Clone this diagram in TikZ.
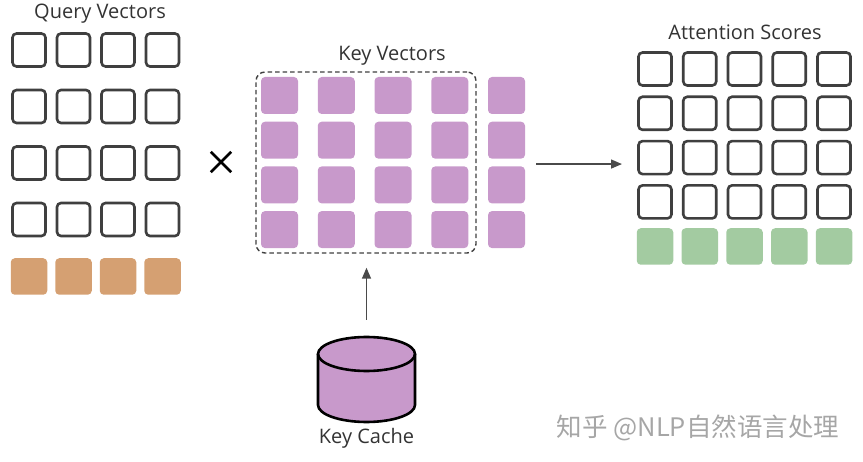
\documentclass[tikz,border=0pt]{standalone}
\usepackage{fontspec}
\setmainfont{Open Sans}
\newfontfamily\cjk{Noto Sans CJK SC}
\usetikzlibrary{arrows.meta,fit}
\definecolor{stroke}{HTML}{3F3F3F}
\definecolor{kpurple}{HTML}{C899CB}
\definecolor{qorange}{HTML}{D5A072}
\definecolor{sgreen}{HTML}{A3CBA1}
\definecolor{txt}{HTML}{333333}
\definecolor{arr}{HTML}{4A4A4A}
\tikzset{
  outcell/.style={draw=stroke,line width=2.6pt,fill=white,rounded corners=4pt,minimum size=33pt,inner sep=0pt},
  fillcell/.style={rounded corners=4pt,minimum size=37pt,inner sep=0pt,draw=none},
  title/.style={font=\fontsize{20}{22}\selectfont,text=txt,inner sep=0pt},
  conn/.style={draw=arr,line width=1.4pt,-{Triangle[length=11pt,width=9pt]}},
}
\begin{document}
\begin{tikzpicture}[x=1pt,y=-1pt]
\useasboundingbox (0,0) rectangle (863,462);
% Query vectors
\node[title] (qtitle) at (100,14) {Query Vectors};
\foreach \i in {0,...,3}{
  \foreach \j in {0,...,3}{
    \node[outcell] (q-\i-\j) at ({29+44.5*\i},{50+56.5*\j}) {};
  }
  \node[fillcell,fill=qorange,minimum size=36.5pt] (qo-\i) at ({29+44.5*\i},{276.5}) {};
}
% times
\node[inner sep=0pt,minimum size=20pt] (times) at (221,162) {};
\draw[stroke,line width=2.6pt] (times.north west) -- (times.south east);
\draw[stroke,line width=2.6pt] (times.north east) -- (times.south west);
% Key vectors
\node[title] (ktitle) at (392,56) {Key Vectors};
\foreach \i in {0,...,4}{
  \foreach \j in {0,...,3}{
    \node[fillcell,fill=kpurple] (k-\i-\j) at ({279.5+56.75*\i},{95.5+44.7*\j}) {};
  }
}
\node[draw=stroke,line width=1.4pt,dash pattern=on 4.5pt off 3pt,rounded corners=9pt,inner sep=0pt,
  fit={(256,72) (476,253)}] (keybox) {};
\node[inner sep=0pt,fit=(k-0-0)(k-4-3)] (kall) {};
% Attention scores
\node[title] (stitle) at (745,32) {Attention Scores};
\foreach \i in {0,...,4}{
  \foreach \j in {0,...,3}{
    \node[outcell] (s-\i-\j) at ({655+44.75*\i},{69+44.3*\j}) {};
  }
  \node[fillcell,fill=sgreen,minimum size=36.5pt] (sg-\i) at ({655+44.75*\i},{246.5}) {};
}
\node[inner sep=0pt,fit=(s-0-0)(sg-4)] (scores) {};
% arrow right
\draw[conn] ([xshift=11pt,yshift=-1.5pt]kall.east) -- ([xshift=-15pt,yshift=-1.5pt]kall.east -| scores.west);
% Key cache cylinder
\fill[kpurple] (318,354) -- (318,405) arc[start angle=180,end angle=360,x radius=48.5pt,y radius=17pt]
  -- (415,354) arc[start angle=0,end angle=180,x radius=48.5pt,y radius=17pt] -- cycle;
\draw[stroke,line width=2.6pt] (318,354) -- (318,405) arc[start angle=180,end angle=360,x radius=48.5pt,y radius=17pt] -- (415,354);
\draw[stroke,line width=2.6pt] (366.5,354) ellipse [x radius=48.5pt, y radius=17pt];
\node[inner sep=0pt,minimum width=97pt,minimum height=90pt] (cache) at (366.5,378.5) {};
\node[title] (ctitle) at (366.5,438) {Key Cache};
\draw[conn] ([yshift=13.5pt]cache.north) -- ([yshift=-14pt]keybox.south -| cache.north);
% watermark
\node[inner sep=0pt,text=black!35,font=\cjk\fontsize{25.5}{27}\selectfont] (wm) at (698,428) {知乎 @NLP自然语言处理};
\end{tikzpicture}
\end{document}
